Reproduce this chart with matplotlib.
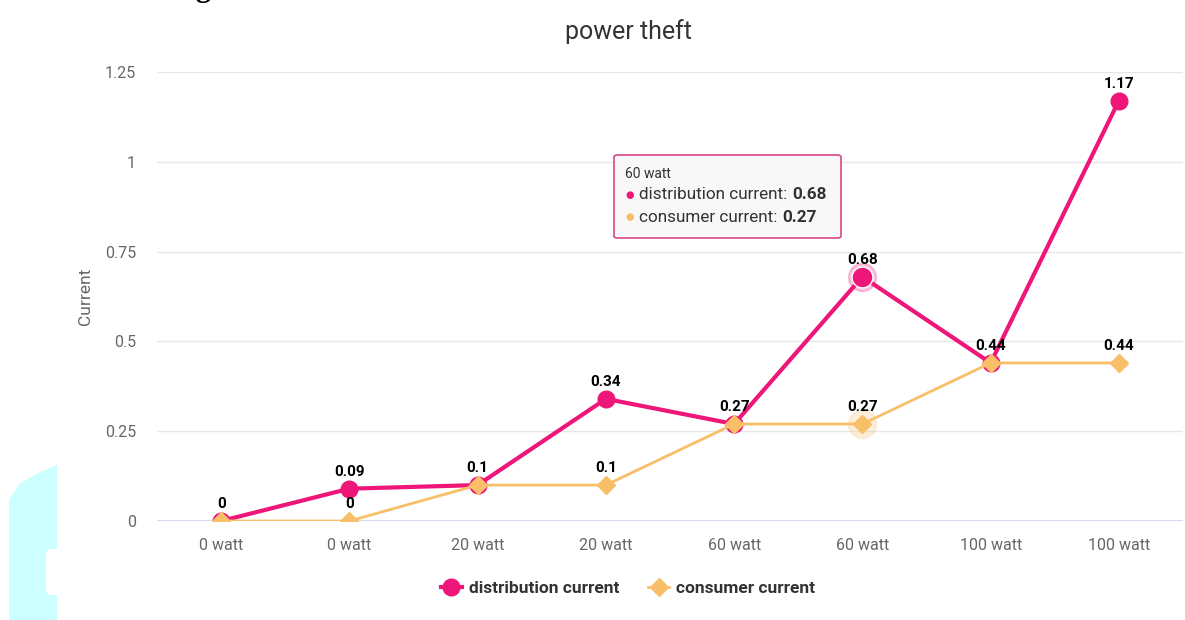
import matplotlib
matplotlib.use("Agg")
import matplotlib.pyplot as plt
from matplotlib.patches import FancyBboxPatch, Polygon

categories = ["0 watt", "0 watt", "20 watt", "20 watt", "60 watt", "60 watt", "100 watt", "100 watt"]
distribution = [0, 0.09, 0.1, 0.34, 0.27, 0.68, 0.44, 1.17]
consumer = [0, 0, 0.1, 0.1, 0.27, 0.27, 0.44, 0.44]
yticks = [0, 0.25, 0.5, 0.75, 1, 1.25]
ytick_labels = ["0", "0.25", "0.5", "0.75", "1", "1.25"]
hover_index = 5

PINK = "#EF1679"
ORANGE = "#F8BF68"
plt.rcParams['font.family'] = ['Roboto', 'DejaVu Sans']

W, H = 1185, 620
fig = plt.figure(figsize=(W / 100, H / 100), dpi=100)
ax = fig.add_axes([157 / W, (H - 521) / H, (1183 - 157) / W, (521 - 72) / H])
x = list(range(len(categories)))
ax.set_xlim(-0.5, len(categories) - 0.5)
ax.set_ylim(0, 1.25)

for s in ax.spines.values():
    s.set_visible(False)
ax.set_yticks(yticks)
ax.set_yticklabels(ytick_labels)
ax.set_xticks(x)
ax.set_xticklabels(categories)
ax.tick_params(axis='both', length=0, colors="#666666", labelsize=11.5)
ax.tick_params(axis='y', pad=15)
ax.tick_params(axis='x', pad=12)
ax.grid(axis='y', color="#e6e6e6", linewidth=1)
ax.axhline(0, color="#ccd6eb", linewidth=1.2, zorder=1)
ax.set_axisbelow(True)
ax.set_ylabel("Current", color="#666666", fontsize=12.5)
ax.yaxis.set_label_coords(-0.062, 0.5)

ax.plot(x, distribution, color=PINK, linewidth=3, marker='o', markersize=12,
        markeredgecolor=PINK, zorder=3, label="distribution current")
ax.plot(x, consumer, color=ORANGE, linewidth=2, marker='D', markersize=9,
        markeredgecolor=ORANGE, zorder=4, label="consumer current")

# hover highlight
ax.plot([x[hover_index]], [distribution[hover_index]], marker='o', markersize=20,
        color=PINK, alpha=0.25, zorder=2.9, linestyle='none')
ax.plot([x[hover_index]], [distribution[hover_index]], marker='o', markersize=15,
        color=PINK, markeredgecolor="white", markeredgewidth=1, zorder=3.5, linestyle='none')
ax.plot([x[hover_index]], [consumer[hover_index]], marker='o', markersize=20,
        color=ORANGE, alpha=0.25, zorder=3.9, linestyle='none')

def fmt(v):
    return ("%g" % v)

for i in x:
    d, c = distribution[i], consumer[i]
    ax.annotate(fmt(d), (i, d), xytext=(0, 7), textcoords='offset points', ha='center',
                va='bottom', fontsize=11, fontweight='bold', color='black', zorder=6)
    if c != d:
        ax.annotate(fmt(c), (i, c), xytext=(0, 7), textcoords='offset points', ha='center',
                    va='bottom', fontsize=11, fontweight='bold', color='black', zorder=6)

fig.text(628 / W, 1 - 32 / H, "power theft", ha='center', va='center', fontsize=18, color="#333333")

leg = fig.legend(loc='center', bbox_to_anchor=(628 / W, 1 - 588 / H), ncol=2, frameon=False,
                 prop={'weight': 'bold', 'size': 12.5}, handlelength=1.2, columnspacing=1.7,
                 handletextpad=0.4)
for t in leg.get_texts():
    t.set_color("#333333")

# tooltip
tip = FancyBboxPatch((614 / W, 1 - 238 / H), (841 - 614) / W, (238 - 155) / H,
                     boxstyle="round,pad=0,rounding_size=0.003", transform=fig.transFigure,
                     facecolor="#f8f8f8", edgecolor="#d9488a", linewidth=1.2, zorder=10)
fig.patches.append(tip)
fig.text(625 / W, 1 - 174 / H, "60 watt", fontsize=10, color="#333333", va='center', zorder=11)
fig.text(625 / W, 1 - 195 / H, "\u25CF", fontsize=7, color=PINK, va='center', zorder=11)
fig.text(625 / W, 1 - 217 / H, "\u25CF", fontsize=7, color=ORANGE, va='center', zorder=11)

renderer = fig.canvas.get_renderer()
for label, val, yy in [("distribution current:", "0.68", 195), ("consumer current:", "0.27", 217)]:
    t = fig.text(639 / W, 1 - yy / H, label, fontsize=12.3, color="#333333", va='center', zorder=11)
    bb = t.get_window_extent(renderer)
    fig.text(bb.x1 / W + 5 / W, 1 - yy / H, val, fontsize=12.3, color="#333333", va='center',
             fontweight='bold', zorder=11)

# scan artifacts
cyan = Polygon([(9 / W, 0), (9 / W, 1 - 500 / H), (20 / W, 1 - 483 / H), (40 / W, 1 - 472 / H),
                (57 / W, 1 - 465 / H), (57 / W, 0)], closed=True, transform=fig.transFigure,
               facecolor="#ccffff", edgecolor='none', zorder=0)
fig.patches.append(cyan)
notch = FancyBboxPatch((46 / W, 1 - 596 / H), 14 / W, 48 / H, boxstyle="round,pad=0,rounding_size=0.01",
                       transform=fig.transFigure, facecolor="white", edgecolor='none', zorder=0.5)
fig.patches.append(notch)
fig.text(195 / W, 1 + 4 / H, "g", fontsize=22, family=['Liberation Serif'], fontweight='bold',
         va='baseline', ha='left', color='black')

fig.savefig("out.png", dpi=100)
